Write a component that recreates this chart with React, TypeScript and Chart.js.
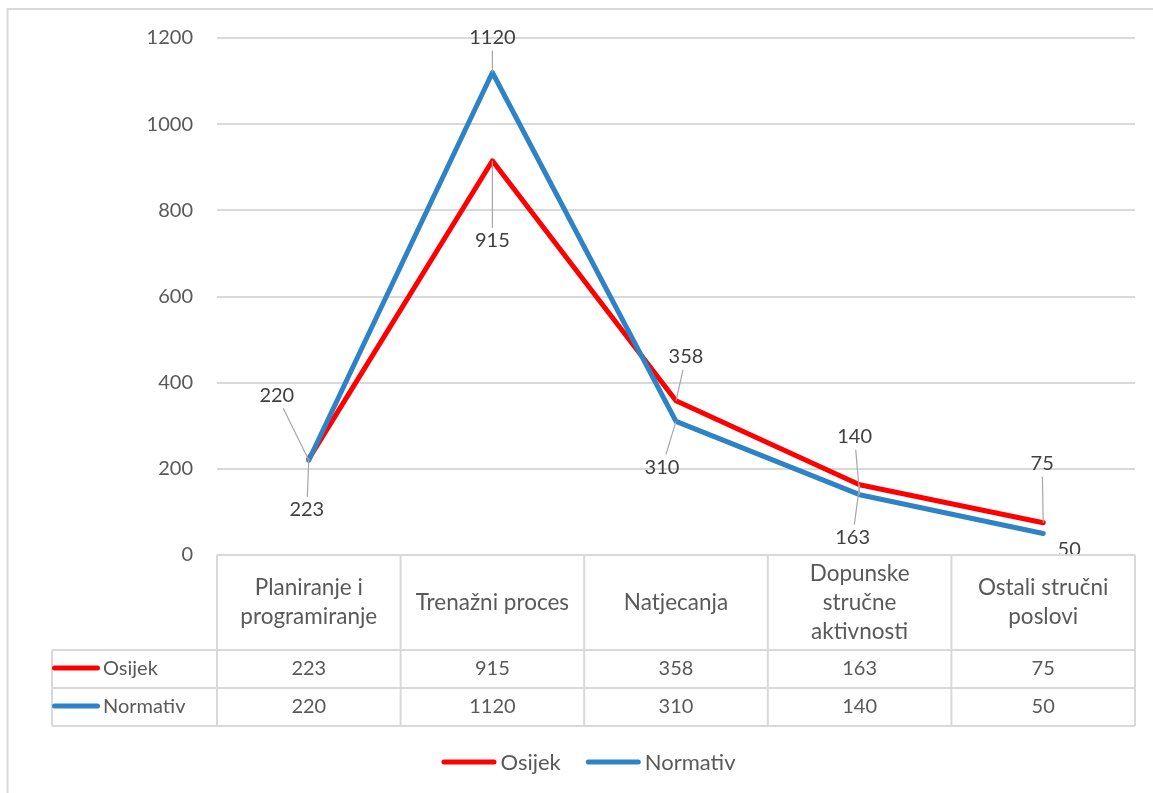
import React, { useEffect, useRef } from "react";
import { Chart, registerables } from "chart.js";

Chart.register(...registerables);

// Activity categories (pre-split into the lines shown in the table header)
const categories: string[][] = [
  ["Planiranje i", "programiranje"],
  ["Trenažni proces"],
  ["Natjecanja"],
  ["Dopunske", "stručne", "aktivnosti"],
  ["Ostali stručni", "poslovi"],
];
const seriesNames = ["Osijek", "Normativ"];
const osijek = [223, 915, 358, 163, 75];
const normativ = [220, 1120, 310, 140, 50];
const yTickValues = [0, 200, 400, 600, 800, 1000, 1200];

const FONT = "Lato, 'Open Sans', sans-serif";
const RED = "#ff0000";
const BLUE = "#2e83c6";
const GRID = "#d9d9d9";
const TEXT = "#595959";
const LABEL_TEXT = "#404040";

// Placement of each value label relative to its point: [dx, dy, drawLeader]
const osijekLabelPlacement: [number, number, boolean][] = [
  [-2, 51, true],
  [0, 80, true],
  [10, -44, true],
  [-7, 53, true],
  [-1, -59, true],
];
const normativLabelPlacement: [number, number, boolean][] = [
  [-32, -65, true],
  [0, -35, true],
  [-14, 46, true],
  [-5, -58, true],
  [26, 16, false],
];

const placements = [osijekLabelPlacement, normativLabelPlacement];
const seriesColors = [RED, BLUE];
const seriesValues = [osijek, normativ];

// Value labels with leader lines, drawn on top of the lines
const valueLabels = {
  id: "valueLabels",
  afterDatasetsDraw(chart: any) {
    const ctx: CanvasRenderingContext2D = chart.ctx;
    ctx.save();
    ctx.font = `20px ${FONT}`;
    ctx.textAlign = "center";
    ctx.textBaseline = "middle";
    chart.data.datasets.forEach((ds: any, di: number) => {
      const meta = chart.getDatasetMeta(di);
      meta.data.forEach((pt: any, i: number) => {
        const [dx, dy, leader] = placements[di][i];
        const lx = pt.x + dx;
        const ly = pt.y + dy;
        const text = String(ds.data[i]);
        if (leader) {
          const hw = ctx.measureText(text).width / 2 + 3;
          const hh = 13;
          const vx = pt.x - lx;
          const vy = pt.y - ly;
          const t = Math.min(
            vx !== 0 ? hw / Math.abs(vx) : Infinity,
            vy !== 0 ? hh / Math.abs(vy) : Infinity
          );
          ctx.strokeStyle = "#a6a6a6";
          ctx.lineWidth = 1.2;
          ctx.beginPath();
          ctx.moveTo(lx + vx * t, ly + vy * t);
          ctx.lineTo(pt.x, pt.y);
          ctx.stroke();
        }
        ctx.fillStyle = LABEL_TEXT;
        ctx.fillText(text, lx, ly);
      });
    });
    ctx.restore();
  },
};

function swatch(ctx: CanvasRenderingContext2D, x0: number, x1: number, y: number, color: string) {
  ctx.save();
  ctx.strokeStyle = color;
  ctx.lineWidth = 5;
  ctx.lineCap = "round";
  ctx.beginPath();
  ctx.moveTo(x0 + 2.5, y);
  ctx.lineTo(x1 - 2.5, y);
  ctx.stroke();
  ctx.restore();
}

// Frame, data table under the plot and the bottom legend
const tableAndLegend = {
  id: "tableAndLegend",
  afterDraw(chart: any) {
    const ctx: CanvasRenderingContext2D = chart.ctx;
    const area = chart.chartArea;
    const n = categories.length;
    const colW = (area.right - area.left) / n;
    const yTop = area.bottom;
    const headerBottom = yTop + 95;
    const row1Bottom = headerBottom + 38;
    const row2Bottom = row1Bottom + 38;
    const labelLeft = 52;

    ctx.save();
    // outer frame
    ctx.strokeStyle = GRID;
    ctx.lineWidth = 2;
    ctx.strokeRect(7.5, 9, 2000, 2000);

    // table grid
    ctx.beginPath();
    ctx.moveTo(area.left, yTop);
    ctx.lineTo(area.right, yTop);
    [headerBottom, row1Bottom, row2Bottom].forEach((y) => {
      ctx.moveTo(labelLeft, y);
      ctx.lineTo(area.right, y);
    });
    for (let k = 0; k <= n; k++) {
      const x = area.left + colW * k;
      ctx.moveTo(x, yTop);
      ctx.lineTo(x, row2Bottom);
    }
    ctx.moveTo(labelLeft, headerBottom);
    ctx.lineTo(labelLeft, row2Bottom);
    ctx.stroke();

    // header cells
    ctx.font = `22.5px ${FONT}`;
    ctx.fillStyle = TEXT;
    ctx.textAlign = "center";
    ctx.textBaseline = "middle";
    const lh = 29;
    categories.forEach((lines, i) => {
      const cx = area.left + colW * (i + 0.5);
      const cy = (yTop + headerBottom) / 2;
      lines.forEach((line, j) => {
        ctx.fillText(line, cx, cy + (j - (lines.length - 1) / 2) * lh);
      });
    });

    // value rows
    ctx.font = `20px ${FONT}`;
    const rowCenters = [(headerBottom + row1Bottom) / 2, (row1Bottom + row2Bottom) / 2];
    seriesValues.forEach((vals, r) => {
      ctx.textAlign = "center";
      ctx.fillStyle = TEXT;
      vals.forEach((v, i) => {
        ctx.fillText(String(v), area.left + colW * (i + 0.5), rowCenters[r]);
      });
      swatch(ctx, labelLeft, labelLeft + 48, rowCenters[r] - 1, seriesColors[r]);
      ctx.textAlign = "left";
      ctx.fillText(seriesNames[r], labelLeft + 51, rowCenters[r]);
    });

    // legend
    ctx.font = `22px ${FONT}`;
    const legendY = 762;
    const swW = 55;
    const widths = seriesNames.map((s) => ctx.measureText(s).width);
    const total = widths.reduce((a, w) => a + swW + 4 + w, 0) + 25;
    let x = 588.5 - total / 2;
    ctx.textAlign = "left";
    seriesNames.forEach((s, r) => {
      swatch(ctx, x, x + swW, legendY, seriesColors[r]);
      ctx.fillStyle = TEXT;
      ctx.fillText(s, x + swW + 4, legendY + 1);
      x += swW + 4 + widths[r] + 25;
    });
    ctx.restore();
  },
};

export default function App() {
  const ref = useRef<HTMLCanvasElement>(null);

  useEffect(() => {
    if (!ref.current) return;
    const chart = new Chart(ref.current, {
      type: "line",
      data: {
        labels: categories.map((c) => c.join(" ")),
        datasets: [
          {
            label: seriesNames[0],
            data: osijek,
            borderColor: RED,
            backgroundColor: RED,
            borderWidth: 5,
            borderCapStyle: "round",
            borderJoinStyle: "round",
            pointRadius: 0,
            tension: 0,
            order: 1,
          },
          {
            label: seriesNames[1],
            data: normativ,
            borderColor: BLUE,
            backgroundColor: BLUE,
            borderWidth: 5,
            borderCapStyle: "round",
            borderJoinStyle: "round",
            pointRadius: 0,
            tension: 0,
            order: 0,
          },
        ],
      },
      options: {
        responsive: false,
        animation: false,
        devicePixelRatio: 1,
        layout: { padding: { left: 0, right: 18, top: 38, bottom: 238 } },
        plugins: {
          legend: { display: false },
          tooltip: { enabled: false },
        },
        scales: {
          x: {
            type: "category",
            offset: true,
            display: false,
          },
          y: {
            min: 0,
            max: 1200,
            afterFit(scale: any) {
              scale.width = 217;
            },
            afterBuildTicks(scale: any) {
              scale.ticks = yTickValues.map((v) => ({ value: v }));
            },
            border: { display: false },
            grid: { color: GRID, lineWidth: 2, drawTicks: false },
            ticks: {
              padding: 24,
              color: TEXT,
              font: { family: FONT, size: 20 },
              callback: (v: any) => String(v),
            },
          },
        },
      },
      plugins: [valueLabels, tableAndLegend],
    });
    return () => chart.destroy();
  }, []);

  return (
    <canvas
      ref={ref}
      width={1153}
      height={793}
      style={{ position: "fixed", left: 0, top: 0, width: 1153, height: 793, background: "#fff" }}
    />
  );
}
